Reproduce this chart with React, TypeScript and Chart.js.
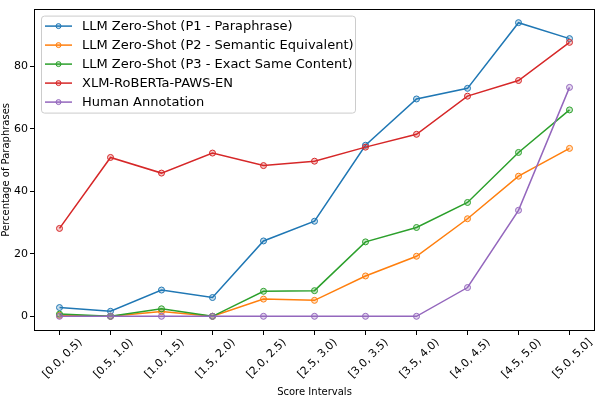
import React, { useEffect, useRef } from "react";
import { Chart, registerables } from "chart.js";

Chart.register(...registerables);

const categories = [
  "[0.0, 0.5)", "[0.5, 1.0)", "[1.0, 1.5)", "[1.5, 2.0)", "[2.0, 2.5)", "[2.5, 3.0)",
  "[3.0, 3.5)", "[3.5, 4.0)", "[4.0, 4.5)", "[4.5, 5.0)", "[5.0, 5.0]",
];

const seriesNames = [
  "LLM Zero-Shot (P1 - Paraphrase)",
  "LLM Zero-Shot (P2 - Semantic Equivalent)",
  "LLM Zero-Shot (P3 - Exact Same Content)",
  "XLM-RoBERTa-PAWS-EN",
  "Human Annotation",
];

const p1Values = [2.8, 1.6, 8.4, 6.0, 24.1, 30.4, 54.7, 69.5, 72.9, 93.9, 88.8];
const p2Values = [0.3, 0, 1.5, 0, 5.5, 5.1, 12.9, 19.2, 31.2, 44.8, 53.7];
const p3Values = [0.7, 0, 2.4, 0, 8.0, 8.2, 23.8, 28.4, 36.4, 52.4, 66.0];
const xlmrValues = [28.1, 50.8, 45.8, 52.2, 48.2, 49.6, 54.1, 58.2, 70.4, 75.4, 87.6];
const humanValues = [0, 0, 0, 0, 0, 0, 0, 0, 9.2, 33.9, 73.2];

const yTicks = [0, 20, 40, 60, 80];
const yMin = -4.7;
const yMax = 98.4;

const colors = ["#1f77b4", "#ff7f0e", "#2ca02c", "#d62728", "#9467bd"];
const fills = [
  "rgba(31,119,180,0.25)",
  "rgba(255,127,14,0.25)",
  "rgba(44,160,44,0.25)",
  "rgba(214,39,40,0.25)",
  "rgba(148,103,189,0.25)",
];

const FONT = "'DejaVu Sans', sans-serif";

const framePlugin = {
  id: "frameAndLegend",
  afterDraw(chart: any) {
    const { ctx, chartArea } = chart;
    const { left, right, top, bottom } = chartArea;
    ctx.save();
    // spines
    ctx.strokeStyle = "#000";
    ctx.lineWidth = 1;
    ctx.strokeRect(Math.round(left) + 0.5, Math.round(top) + 0.5, Math.round(right - left) - 1, Math.round(bottom - top) - 1);

    // legend
    const lx = left + 7;
    const ly = top + 7;
    const lw = 314;
    const rowH = 19;
    const lh = rowH * seriesNames.length + 2;
    ctx.beginPath();
    const r = 3;
    const x0 = lx + 0.5, y0 = ly + 0.5;
    ctx.moveTo(x0 + r, y0);
    ctx.lineTo(x0 + lw - r, y0);
    ctx.arcTo(x0 + lw, y0, x0 + lw, y0 + r, r);
    ctx.lineTo(x0 + lw, y0 + lh - r);
    ctx.arcTo(x0 + lw, y0 + lh, x0 + lw - r, y0 + lh, r);
    ctx.lineTo(x0 + r, y0 + lh);
    ctx.arcTo(x0, y0 + lh, x0, y0 + lh - r, r);
    ctx.lineTo(x0, y0 + r);
    ctx.arcTo(x0, y0, x0 + r, y0, r);
    ctx.closePath();
    ctx.fillStyle = "rgba(255,255,255,0.8)";
    ctx.fill();
    ctx.strokeStyle = "#cccccc";
    ctx.lineWidth = 1;
    ctx.stroke();

    ctx.font = `13px ${FONT}`;
    ctx.textBaseline = "middle";
    ctx.textAlign = "left";
    seriesNames.forEach((name, i) => {
      const cy = ly + 10 + rowH * i + 0.5;
      ctx.strokeStyle = colors[i];
      ctx.lineWidth = 1.5;
      ctx.beginPath();
      ctx.moveTo(lx + 4, cy);
      ctx.lineTo(lx + 31, cy);
      ctx.stroke();
      ctx.beginPath();
      ctx.arc(lx + 17.5, cy, 2.5, 0, Math.PI * 2);
      ctx.fillStyle = fills[i];
      ctx.fill();
      ctx.lineWidth = 1;
      ctx.stroke();
      ctx.fillStyle = "#000";
      ctx.fillText(name, lx + 41, cy + 0.5);
    });
    ctx.restore();
  },
};

export default function App() {
  const canvasRef = useRef<HTMLCanvasElement | null>(null);

  useEffect(() => {
    if (!canvasRef.current) return;
    const allValues = [p1Values, p2Values, p3Values, xlmrValues, humanValues];
    const chart = new Chart(canvasRef.current, {
      type: "line",
      data: {
        labels: categories,
        datasets: allValues.map((vals, i) => ({
          label: seriesNames[i],
          data: vals,
          borderColor: colors[i],
          backgroundColor: fills[i],
          borderWidth: 1.5,
          pointRadius: 3,
          pointBorderWidth: 1,
          pointBackgroundColor: fills[i],
          pointBorderColor: colors[i],
          tension: 0,
          fill: false,
          order: allValues.length - 1 - i,
        })),
      },
      options: {
        responsive: false,
        animation: false,
        layout: { padding: { left: 0, top: 3, right: 2, bottom: 0 } },
        plugins: {
          legend: { display: false },
          tooltip: { enabled: false },
          title: { display: false },
        },
        scales: {
          x: {
            type: "category",
            offset: true,
            border: { display: false },
            grid: {
              display: true,
              drawOnChartArea: false,
              drawTicks: true,
              tickLength: 4,
              tickColor: "#000",
              color: "#000",
            },
            ticks: {
              autoSkip: false,
              minRotation: 45,
              maxRotation: 45,
              labelOffset: 21,
              padding: 1,
              color: "#000",
              font: { family: FONT, size: 11 },
            },
            title: {
              display: true,
              text: "Score Intervals",
              color: "#000",
              font: { family: FONT, size: 10 },
              padding: 0,
            },
            afterFit(scale: any) {
              scale.height = 67;
            },
          },
          y: {
            type: "linear",
            min: yMin,
            max: yMax,
            border: { display: false },
            grid: {
              display: true,
              drawOnChartArea: false,
              drawTicks: true,
              tickLength: 4,
              tickColor: "#000",
              color: "#000",
            },
            ticks: {
              padding: 2,
              color: "#000",
              font: { family: FONT, size: 11 },
            },
            afterBuildTicks(scale: any) {
              scale.ticks = yTicks.map((v) => ({ value: v }));
            },
            title: {
              display: true,
              text: "Percentage of Paraphrases",
              color: "#000",
              font: { family: FONT, size: 10 },
              padding: 0,
            },
            afterFit(scale: any) {
              scale.width = 34;
            },
          },
        },
      },
      plugins: [framePlugin],
    });
    return () => chart.destroy();
  }, []);

  return (
    <div style={{ position: "fixed", left: 0, top: 0, width: 600, height: 398, background: "#fff" }}>
      <canvas ref={canvasRef} width={600} height={398} style={{ display: "block" }} />
    </div>
  );
}
